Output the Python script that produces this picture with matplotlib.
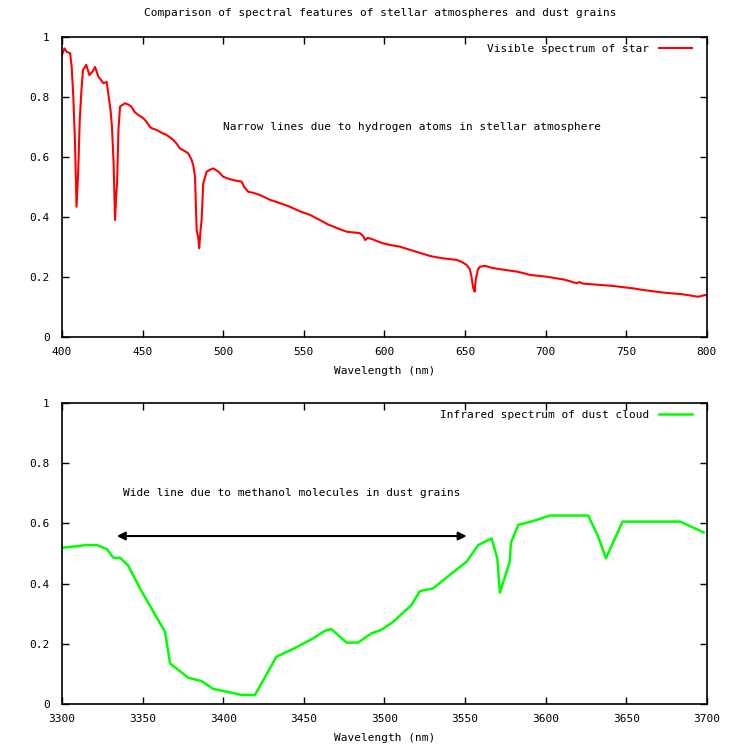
import matplotlib
matplotlib.use("Agg")
import matplotlib.pyplot as plt

plt.rcParams["font.family"] = ["DejaVu Sans Mono"]
plt.rcParams["font.size"] = 8

# visible spectrum of the star (wavelength in nm, normalised flux)
wl_star = [400, 401.5, 403, 405, 406, 407, 408, 409, 410, 411,
           412, 413, 415, 417, 419, 420.5, 422.5, 424, 425.6, 427.7,
           429, 430.2, 431, 432, 432.9, 433.5, 434.2, 435, 436, 439,
           441, 443, 445, 447.3, 450.4, 452, 454.6, 456, 458.7, 462,
           465, 467, 469, 471, 473, 476, 478.3, 480.4, 481.5, 482.5,
           483.5, 484.5, 485.1, 486, 486.6, 487.6, 489.7, 492, 493.8, 497,
           500, 503, 506, 509, 511.4, 513, 515.5, 519, 522.8, 526,
           529, 532, 535.2, 540, 543.4, 548, 553.8, 558, 562, 565,
           568.2, 572, 576.5, 580, 584.8, 587, 588, 589.5, 592, 596,
           599.3, 604, 609.6, 615, 620, 624, 628.2, 632, 636.5, 640,
           644.8, 648, 651, 653, 654, 655, 656, 656.6, 658, 659.2,
           662.3, 667, 671.6, 677, 682, 686, 690.2, 695, 700.6, 706,
           711, 715, 719.2, 721, 723, 725.4, 733, 741.9, 748, 754.3,
           760, 768.8, 773, 777.1, 781, 785.3, 790, 794.6, 797, 798.8,
           800]
flux_star = [0.94, 0.962, 0.95, 0.946, 0.90, 0.80, 0.657, 0.434, 0.546, 0.723,
             0.82, 0.89, 0.907, 0.873, 0.885, 0.90, 0.868, 0.858, 0.846, 0.85,
             0.80, 0.75, 0.70, 0.58, 0.39, 0.46, 0.52, 0.69, 0.768, 0.779,
             0.775, 0.768, 0.75, 0.74, 0.729, 0.72, 0.70, 0.695, 0.69, 0.68,
             0.673, 0.665, 0.657, 0.645, 0.629, 0.62, 0.612, 0.59, 0.57, 0.534,
             0.357, 0.33, 0.296, 0.36, 0.39, 0.512, 0.551, 0.558, 0.562, 0.551,
             0.534, 0.528, 0.523, 0.52, 0.518, 0.50, 0.484, 0.48, 0.473, 0.465,
             0.457, 0.452, 0.446, 0.437, 0.429, 0.418, 0.407, 0.395, 0.384, 0.375,
             0.368, 0.36, 0.351, 0.349, 0.346, 0.335, 0.323, 0.33, 0.327, 0.318,
             0.312, 0.306, 0.301, 0.292, 0.284, 0.277, 0.27, 0.266, 0.262, 0.26,
             0.257, 0.25, 0.24, 0.225, 0.201, 0.165, 0.151, 0.19, 0.225, 0.234,
             0.237, 0.23, 0.226, 0.222, 0.218, 0.213, 0.207, 0.204, 0.201, 0.196,
             0.192, 0.186, 0.179, 0.183, 0.178, 0.177, 0.174, 0.17, 0.166, 0.162,
             0.157, 0.151, 0.148, 0.146, 0.144, 0.142, 0.138, 0.134, 0.137, 0.14,
             0.138]

# infrared spectrum of the dust cloud
wl_dust = [3300, 3307, 3315, 3321.5, 3327.7, 3331.8, 3336, 3341, 3348.4, 3356.6,
           3363.9, 3367, 3371, 3378.3, 3386.6, 3393.8, 3402, 3411.4, 3419.7, 3433,
           3443.4, 3455.8, 3463, 3467, 3476.5, 3483.7, 3492, 3498, 3505.5, 3516.8,
           3522, 3530.3, 3540.6, 3551, 3558.2, 3566.5, 3570, 3571.6, 3577.8, 3578.4,
           3583, 3592.3, 3602.6, 3626.4, 3632.6, 3637.4, 3647.7, 3683.4, 3698]
flux_dust = [0.519, 0.523, 0.528, 0.528, 0.515, 0.486, 0.486, 0.46, 0.384, 0.307,
             0.24, 0.135, 0.118, 0.087, 0.076, 0.05, 0.041, 0.03, 0.03, 0.157,
             0.183, 0.218, 0.243, 0.249, 0.204, 0.204, 0.235, 0.246, 0.273, 0.329,
             0.375, 0.384, 0.429, 0.473, 0.528, 0.55, 0.484, 0.37, 0.473, 0.534,
             0.595, 0.608, 0.626, 0.626, 0.556, 0.484, 0.606, 0.606, 0.57]

y_ticks = [0, 0.2, 0.4, 0.6, 0.8, 1]
y_labels = ["0", "0.2", "0.4", "0.6", "0.8", "1"]
x_ticks_star = [400, 450, 500, 550, 600, 650, 700, 750, 800]
x_ticks_dust = [3300, 3350, 3400, 3450, 3500, 3550, 3600, 3650, 3700]

assert len(wl_star) == len(flux_star)
assert len(wl_dust) == len(flux_dust)


def estilo(ax, xticks):
    ax.set_xticks(xticks)
    ax.set_yticks(y_ticks)
    ax.set_yticklabels(y_labels)
    ax.set_ylim(0, 1)
    ax.set_xlim(xticks[0], xticks[-1])
    ax.tick_params(direction="in", length=5, width=1, top=True, right=True,
                   labelsize=8)
    ax.tick_params(axis="x", pad=7)
    ax.tick_params(axis="y", pad=9)
    for s in ax.spines.values():
        s.set_linewidth(1.2)
    ax.set_xlabel("Wavelength (nm)", labelpad=7)
    ax.legend(loc="upper right", bbox_to_anchor=(0.993, 1.009), frameon=False,
              markerfirst=False, handlelength=3.0, handletextpad=0.9)


fig = plt.figure(figsize=(7.34, 7.53), dpi=100)
ax1 = fig.add_axes([0.0845, 0.5525, 0.8785, 0.3984])
ax2 = fig.add_axes([0.0845, 0.0651, 0.8785, 0.3997])

ax1.plot(wl_star, flux_star, color="#ff0000", lw=1.5,
         label="Visible spectrum of star")
ax1.text(500, 0.70, "Narrow lines due to hydrogen atoms in stellar atmosphere",
         ha="left", va="center")
estilo(ax1, x_ticks_star)

ax2.plot(wl_dust, flux_dust, color="#00ff00", lw=1.8,
         label="Infrared spectrum of dust cloud")
ax2.annotate("", xy=(3334, 0.558), xytext=(3551, 0.558),
             arrowprops=dict(arrowstyle="<|-|>", color="black", lw=1.5,
                             mutation_scale=12, shrinkA=0, shrinkB=0))
ax2.text(3338, 0.70, "Wide line due to methanol molecules in dust grains",
         ha="left", va="center")
estilo(ax2, x_ticks_dust)

fig.text(380 / 734, 1 - 13 / 753,
         "Comparison of spectral features of stellar atmospheres and dust grains",
         ha="center", va="center")

fig.savefig("out.png", dpi=100)
